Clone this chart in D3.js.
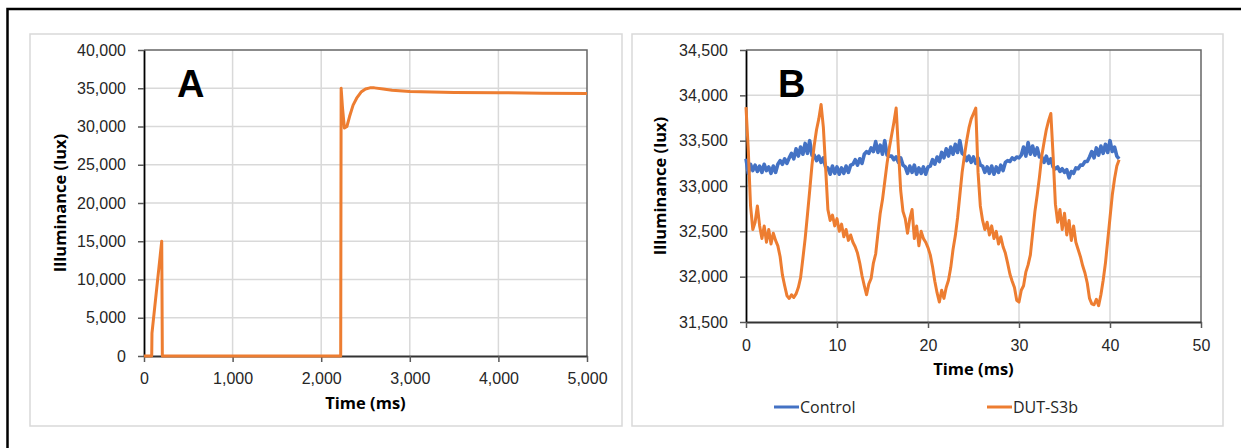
<!DOCTYPE html>
<html>
<head>
<meta charset="utf-8">
<script src="https://cdn.jsdelivr.net/npm/d3@7"></script>
<style>
  body { margin: 0; background: #fff; }
  svg { display: block; font-family: "Open Sans", sans-serif; }
  .grid line { stroke: #d9d9d9; stroke-width: 1.5; }
  .axis text { fill: #262626; font-size: 16px; }
  .axis line { stroke: #595959; stroke-width: 1.5; }
  .axisTitle { font-size: 16.5px; font-weight: bold; fill: #000; }
  .panelLetter { font-family: "Liberation Sans", Arial, sans-serif; font-size: 38px; font-weight: bold; }
</style>
</head>
<body>
<script>
(function(){
  //panel A: full switching trace (ms, lux)
  var timeA = [0, 87, 90, 200, 207, 2220, 2225, 2240, 2262, 2290, 2320, 2360, 2400, 2450, 2500, 2550, 2600, 2700, 2800, 3000, 3500, 4000, 4500, 5000];
  var luxA  = [0, 0, 3000, 15000, 0, 0, 35000, 32500, 29800, 30000, 31300, 32800, 33700, 34500, 34900, 35050, 35050, 34900, 34750, 34580, 34460, 34420, 34360, 34300];

  //panel B: flicker traces, one sample every 0.25 ms from 0 to 41 ms
  var startB = 0, stepB = 0.25;
  var controlB = [
    33300, 33140, 33240, 33170, 33230, 33160, 33220, 33150, 33240, 33170, 33210, 33140,
    33220, 33150, 33240, 33280, 33240, 33300, 33250, 33310, 33360, 33300, 33410, 33330,
    33430, 33350, 33470, 33360, 33500, 33340, 33340, 33280, 33330, 33260, 33310, 33210,
    33200, 33130, 33220, 33140, 33210, 33130, 33200, 33140, 33220, 33150, 33230, 33240,
    33290, 33230, 33300, 33250, 33350, 33380, 33360, 33420, 33380, 33490, 33370, 33450,
    33350, 33500, 33340, 33330, 33330, 33290, 33320, 33260, 33310, 33230, 33210, 33140,
    33220, 33150, 33230, 33130, 33200, 33140, 33210, 33130, 33210, 33220, 33290, 33240,
    33320, 33270, 33370, 33310, 33410, 33330, 33430, 33350, 33460, 33370, 33500, 33360,
    33340, 33280, 33330, 33260, 33320, 33250, 33310, 33230, 33220, 33150, 33210, 33140,
    33220, 33130, 33210, 33150, 33230, 33170, 33260, 33280, 33270, 33310, 33290, 33320,
    33310, 33340, 33430, 33330, 33480, 33350, 33440, 33340, 33420, 33320, 33320, 33260,
    33330, 33250, 33300, 33210, 33190, 33210, 33160, 33190, 33150, 33180, 33090, 33160,
    33140, 33200, 33190, 33230, 33230, 33270, 33270, 33320, 33380, 33310, 33420, 33340,
    33440, 33360, 33460, 33370, 33500, 33380, 33430, 33330, 33300
  ];
  var dutB = [
    33870, 33400, 32780, 32520, 32600, 32780, 32560, 32420, 32560, 32380, 32520, 32360,
    32480, 32400, 32340, 32220, 32020, 31900, 31790, 31760, 31800, 31770, 31810, 31880,
    31990, 32200, 32420, 32680, 32950, 33230, 33450, 33620, 33740, 33900, 33650, 33200,
    32740, 32620, 32680, 32560, 32640, 32500, 32580, 32440, 32520, 32400, 32460, 32380,
    32330, 32260, 32150, 32010, 31900, 31800, 31920, 31980, 32150, 32250, 32480, 32700,
    32850, 33050, 33250, 33420, 33560, 33700, 33860, 33400, 32950, 32720, 32640, 32480,
    32640, 32740, 32420, 32560, 32340, 32500, 32420, 32380, 32320, 32240, 32110, 31950,
    31820, 31720, 31850, 31760, 31880, 31960, 32100, 32300, 32450, 32650, 32900, 33150,
    33330, 33500, 33640, 33740, 33800, 33860, 33150, 32780, 32620, 32520, 32600, 32460,
    32560, 32420, 32500, 32360, 32440, 32330, 32260, 32150, 32030, 31950, 31880, 31740,
    31720, 31850, 31900, 32050, 32130, 32240, 32480, 32720, 32900, 33100, 33330, 33480,
    33620, 33720, 33800, 33330, 32800, 32600, 32740, 32520, 32700, 32460, 32620, 32400,
    32560, 32380, 32300, 32220, 32120, 32040, 31930, 31760, 31700, 31690, 31750, 31680,
    31800, 31960, 32150, 32400, 32650, 32900, 33080, 33220, 33290
  ];

  var seriesNames = ["Control", "DUT-S3b"];
  var seriesColors = ["#4472C4", "#ED7D31"];

  //tick values
  var ticksAx = [0, 1000, 2000, 3000, 4000, 5000];
  var ticksAy = [0, 5000, 10000, 15000, 20000, 25000, 30000, 35000, 40000];
  var ticksBx = [0, 10, 20, 30, 40, 50];
  var ticksBy = [31500, 32000, 32500, 33000, 33500, 34000, 34500];

  var width = 1241, height = 448;

  var svg = d3.select("body")
      .append("svg")
      .attr("width", width)
      .attr("height", height);

  //outer black frame (runs off the right and bottom edges)
  svg.append("rect")
      .attr("x", 7.5).attr("y", 9)
      .attr("width", 1260).attr("height", 460)
      .attr("fill", "none")
      .attr("stroke", "#000")
      .attr("stroke-width", 2.5);

  function pairs(times, vals){
    return times.map(function(t, i){ return [t, vals[i]]; });
  }
  function sampled(vals){
    return vals.map(function(v, i){ return [startB + i * stepB, v]; });
  }

  var panels = [
    {
      box: [30, 34, 592, 392], plot: [144, 50, 587, 356],
      xDomain: [0, 5000], yDomain: [0, 40000], xTicks: ticksAx, yTicks: ticksAy,
      letter: "A", letterPos: [177, 97],
      yTitleX: 60, xTitleY: 409, xPad: 11,
      series: [{ data: pairs(timeA, luxA), color: seriesColors[1], w: 3 }]
    },
    {
      box: [632, 34, 591, 392], plot: [746, 50, 1201, 322],
      xDomain: [0, 50], yDomain: [31500, 34500], xTicks: ticksBx, yTicks: ticksBy,
      letter: "B", letterPos: [778, 97],
      yTitleX: 660, xTitleY: 375, xPad: 12,
      series: [
        { data: sampled(controlB), color: seriesColors[0], w: 3.6 },
        { data: sampled(dutB), color: seriesColors[1], w: 3 }
      ]
    }
  ];

  panels.forEach(drawPanel);

  function drawPanel(p){
    var g = svg.append("g");

    //light panel border
    g.append("rect")
        .attr("x", p.box[0]).attr("y", p.box[1])
        .attr("width", p.box[2]).attr("height", p.box[3])
        .attr("fill", "none")
        .attr("stroke", "#d9d9d9")
        .attr("stroke-width", 1.5);

    var x = d3.scaleLinear().domain(p.xDomain).range([p.plot[0], p.plot[2]]);
    var y = d3.scaleLinear().domain(p.yDomain).range([p.plot[3], p.plot[1]]);

    //gridlines
    var grid = g.append("g").attr("class", "grid");
    grid.selectAll(".vg")
        .data(p.xTicks.slice(1, -1))
        .enter()
        .append("line")
        .attr("x1", function(d){ return x(d); })
        .attr("x2", function(d){ return x(d); })
        .attr("y1", p.plot[1]).attr("y2", p.plot[3]);
    grid.selectAll(".hg")
        .data(p.yTicks.slice(1, -1))
        .enter()
        .append("line")
        .attr("y1", function(d){ return y(d); })
        .attr("y2", function(d){ return y(d); })
        .attr("x1", p.plot[0]).attr("x2", p.plot[2]);

    //top and right frame
    g.append("path")
        .attr("d", "M" + p.plot[0] + "," + p.plot[1] + "H" + p.plot[2] + "V" + p.plot[3])
        .attr("fill", "none")
        .attr("stroke", "#666")
        .attr("stroke-width", 1.5);

    //axes
    var yAxis = d3.axisLeft(y)
        .tickValues(p.yTicks)
        .tickFormat(d3.format(","))
        .tickSize(6)
        .tickSizeOuter(0)
        .tickPadding(12);
    var yg = g.append("g")
        .attr("class", "axis")
        .attr("transform", "translate(" + p.plot[0] + ",0)")
        .call(yAxis);
    yg.select(".domain").attr("stroke", "#000").attr("stroke-width", 1.8);

    var xAxis = d3.axisBottom(x)
        .tickValues(p.xTicks)
        .tickFormat(d3.format(","))
        .tickSize(6)
        .tickSizeOuter(0)
        .tickPadding(p.xPad);
    var xg = g.append("g")
        .attr("class", "axis")
        .attr("transform", "translate(0," + p.plot[3] + ")")
        .call(xAxis);
    xg.select(".domain").attr("stroke", "#333").attr("stroke-width", 2);

    //data lines
    var line = d3.line()
        .x(function(d){ return x(d[0]); })
        .y(function(d){ return y(d[1]); });
    p.series.forEach(function(s){
      g.append("path")
          .datum(s.data)
          .attr("d", line)
          .attr("fill", "none")
          .attr("stroke", s.color)
          .attr("stroke-width", s.w)
          .attr("stroke-linejoin", "round");
    });

    //axis titles
    g.append("text")
        .attr("class", "axisTitle")
        .attr("text-anchor", "middle")
        .attr("x", (p.plot[0] + p.plot[2]) / 2)
        .attr("y", p.xTitleY)
        .text("Time (ms)");
    g.append("text")
        .attr("class", "axisTitle")
        .attr("text-anchor", "middle")
        .attr("transform", "translate(" + p.yTitleX + "," + (p.plot[1] + p.plot[3]) / 2 + ") rotate(-90)")
        .attr("dy", "0.35em")
        .text("Illuminance (lux)");

    //panel letter
    g.append("text")
        .attr("class", "panelLetter")
        .attr("x", p.letterPos[0])
        .attr("y", p.letterPos[1])
        .text(p.letter);
  }

  //legend for panel B
  var legendX = [774, 987];
  var legend = svg.selectAll(".legend")
      .data(seriesNames)
      .enter()
      .append("g")
      .attr("class", "legend")
      .attr("transform", function(d, i){ return "translate(" + legendX[i] + ",407)"; });
  legend.append("line")
      .attr("x1", 0).attr("x2", 25)
      .attr("stroke", function(d, i){ return seriesColors[i]; })
      .attr("stroke-width", 3);
  legend.append("text")
      .attr("x", 26)
      .attr("y", 6)
      .attr("font-size", "16px")
      .attr("fill", "#262626")
      .text(function(d){ return d; });
})();
</script>
</body>
</html>
